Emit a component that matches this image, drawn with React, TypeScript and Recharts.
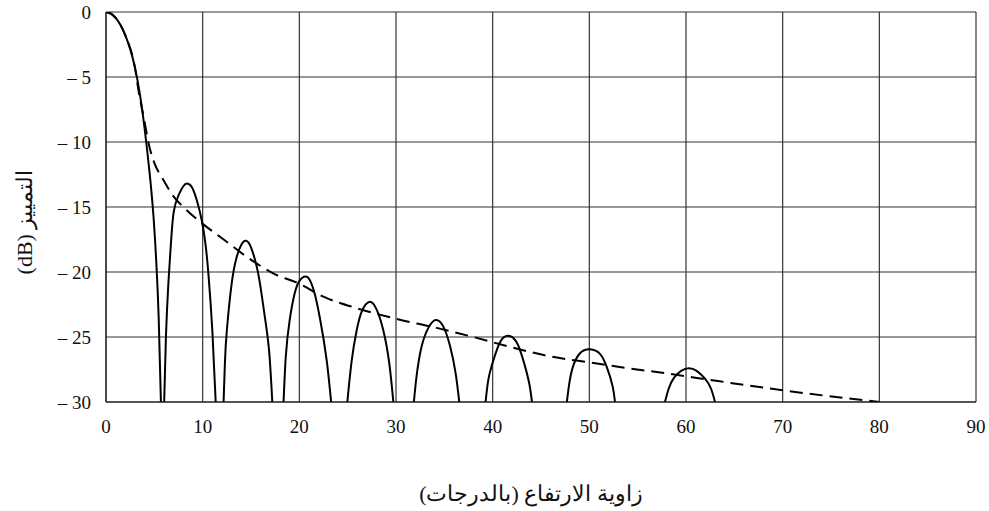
import { CartesianGrid, Label, Line, LineChart, XAxis, YAxis } from "recharts";

// Solid pattern, one row per lobe; each lobe runs from the -30 floor up and back down,
// null marks the gap where the curve drops out of the plotted range
const patternAngle = [
  0, 0.5, 1, 1.5, 2, 2.5, 3, 3.5, 4, 4.5, 4.9, 5.2, 5.45, 5.7, 5.85,
  6.0, 6.2, 6.45, 6.7, 7.0, 7.5, 8.0, 8.4, 8.9, 9.4, 9.9, 10.3, 10.6, 11.0, 11.38, 11.75,
  12.14, 12.3, 12.5, 13.0, 13.5, 14.0, 14.5, 15.0, 15.5, 15.93, 16.5, 16.9, 17.24, 17.8,
  18.34, 18.6, 19.0, 19.5, 20.0, 20.7, 21.2, 21.6, 22.14, 22.83, 23.35, 24.1,
  24.9, 25.42, 25.93, 26.45, 27.24, 28.0, 28.69, 29.3, 29.79, 30.8,
  31.79, 32.13, 32.66, 33.35, 34.1, 34.9, 35.59, 36.17, 36.62, 38.0,
  39.2, 39.55, 40.07, 40.76, 41.6, 42.48, 43.17, 43.79, 44.14, 45.8,
  47.6, 47.9, 48.3, 49.03, 50.07, 51.1, 51.8, 52.41, 52.73, 55.3,
  57.65, 58.2, 58.75, 59.5, 60.31, 61.1, 61.9, 62.6, 63.17, 64.2,
];
const patternGain = [
  0, -0.1, -0.45, -1.0, -1.8, -2.85, -4.3, -6.3, -9.0, -12.3, -15.6, -19.2, -23.5, -30.5, null,
  -30.5, -25, -20.9, -18, -15.4, -14.1, -13.4, -13.2, -13.5, -14.5, -16.0, -17.9, -20.2, -24.5, -30.5, null,
  -30.5, -27.0, -24.5, -20.9, -18.9, -17.9, -17.6, -18.1, -19.3, -20.9, -23.8, -26.3, -30.5, null,
  -30.5, -26.5, -23.7, -21.7, -20.7, -20.35, -20.8, -21.7, -23.6, -26.8, -30.5, null,
  -30.5, -26.8, -24.5, -23.05, -22.3, -22.9, -24.5, -27.0, -30.5, null,
  -30.5, -28.0, -25.7, -24.3, -23.7, -24.2, -25.7, -27.8, -30.5, null,
  -30.5, -28.3, -26.8, -25.4, -24.9, -25.4, -26.8, -28.6, -30.5, null,
  -30.5, -28.7, -27.3, -26.25, -25.95, -26.3, -27.3, -28.8, -30.5, null,
  -30.5, -29.0, -28.15, -27.6, -27.4, -27.6, -28.15, -29.0, -30.5, null,
];

// Dashed envelope
const envelopeAngle = [
  0, 1, 2, 3, 3.4, 3.9, 4.5, 5, 6, 7, 8, 10, 12, 14.5, 17.3, 20, 22.5, 26, 30, 34.2, 38, 42, 46, 50,
  54, 58, 62.5, 70, 80,
];
const envelopeGain = [
  0, -0.45, -1.8, -4.3, -6.2, -8.1, -10.4, -11.6, -13.0, -14.2, -15.0, -16.3, -17.4, -18.8, -20.1,
  -20.9, -21.9, -22.8, -23.6, -24.3, -25.0, -25.8, -26.5, -26.95, -27.4, -27.8, -28.3, -29.1, -30,
];

const xTicks = [0, 10, 20, 30, 40, 50, 60, 70, 80, 90];
const yTicks = [0, -5, -10, -15, -20, -25, -30];

const xTitle = "زاوية الارتفاع (بالدرجات)";
const yTitle = "(dB) التمييز";

const pattern = patternAngle.map((a, i) => ({ angle: a, gain: patternGain[i] }));
const envelope = envelopeAngle.map((a, i) => ({ angle: a, gain: envelopeGain[i] }));

const serif = "'Liberation Serif', 'Times New Roman', serif";
const tickStyle = { fontSize: 19, fill: "#111", fontFamily: serif };

const fmtY = (v: number) => (v < 0 ? `\u2013 ${-v}` : `${v}`);

export default function App() {
  return (
    <div style={{ position: "absolute", left: 0, top: 0, background: "#fff", fontFamily: serif }}>
      <LineChart width={989} height={511} margin={{ top: 12, right: 13, left: 0, bottom: 0 }}>
        <CartesianGrid stroke="#333" strokeWidth={1.2} />
        <XAxis
          type="number"
          dataKey="angle"
          domain={[0, 90]}
          ticks={xTicks}
          allowDataOverflow
          height={109}
          tickLine={false}
          tickMargin={12}
          axisLine={{ stroke: "#111" }}
          tick={tickStyle}
        >
          <Label
            value={xTitle}
            position="insideBottom"
            offset={10}
            dx={-10}
            style={{ fontSize: 22, fill: "#111", fontFamily: serif }}
          />
        </XAxis>
        <YAxis
          type="number"
          domain={[-30, 0]}
          ticks={yTicks}
          allowDataOverflow
          width={106}
          tickLine={false}
          tickMargin={9}
          axisLine={{ stroke: "#111" }}
          tick={tickStyle}
          tickFormatter={fmtY}
        >
          <Label
            value={yTitle}
            position="center"
            angle={-90}
            dx={-29}
            dy={15}
            style={{ fontSize: 22, fill: "#111", fontFamily: serif, textAnchor: "middle" }}
          />
        </YAxis>
        <Line
          data={envelope}
          dataKey="gain"
          type="monotone"
          stroke="#000"
          strokeWidth={2}
          strokeDasharray="13 7"
          dot={false}
          activeDot={false}
          isAnimationActive={false}
        />
        <Line
          data={pattern}
          dataKey="gain"
          type="natural"
          stroke="#000"
          strokeWidth={2}
          dot={false}
          activeDot={false}
          isAnimationActive={false}
        />
      </LineChart>
    </div>
  );
}
